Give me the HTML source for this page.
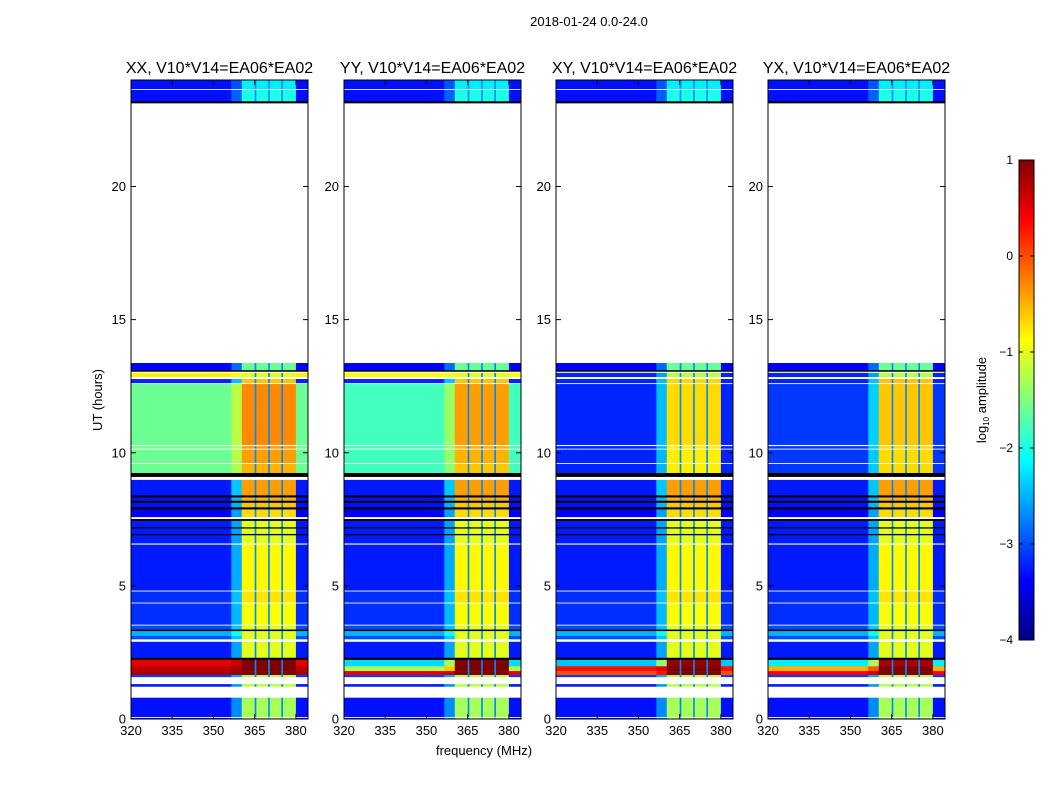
<!DOCTYPE html>
<html><head><meta charset="utf-8"><style>
body{margin:0;background:#fff;}
svg{display:block;font-family:"Liberation Sans",sans-serif;}
</style></head><body>
<svg id="fig" width="1050" height="800" viewBox="0 0 1050 800" xmlns="http://www.w3.org/2000/svg">
<rect width="1050" height="800" fill="#fff"/>
<text x="589" y="26" font-size="13" text-anchor="middle">2018-01-24 0.0-24.0</text>
<text transform="translate(102,400) rotate(-90)" font-size="13" text-anchor="middle">UT (hours)</text>
<text x="484" y="755" font-size="13" text-anchor="middle">frequency (MHz)</text>
<text transform="translate(986,400) rotate(-90)" font-size="13" text-anchor="middle">log<tspan font-size="8" dy="3">10</tspan><tspan dy="-3"> amplitude</tspan></text>
<g id="panels"></g>
<g id="cbar"></g>
</svg>
<script>
// ---- data ----
const panelTitles = ["XX, V10*V14=EA06*EA02","YY, V10*V14=EA06*EA02","XY, V10*V14=EA06*EA02","YX, V10*V14=EA06*EA02"];
const yTicks = [0,5,10,15,20];
const xTicks = [320,335,350,365,380];
const freqEdges = [320,356.5,360.3,365,365.6,369.9,370.5,374.7,375.3,380,384.4];
const colKinds  = ['bg','ramp','band','gap','band','gap','band','gap','band','bg'];
const gapValue = -2.7;
// time rows [start hour, end hour]; null = flagged (white), -9 = black separator
const rowStart = [23.67,23.63,23.2,23.13,13.37,13.1,13.05,13.0,12.85,12.77,12.62,12.58,10.3,10.25,10.16,10.12,9.62,9.58,9.24,9.1,8.98,8.4,8.32,8.2,8.12,7.95,7.87,7.59,7.51,7.44,7.2,7.15,6.95,6.9,6.6,6.55,4.83,4.79,4.38,4.34,3.55,3.51,3.36,3.3,3.12,3.0,2.9,2.3,2.22,1.98,1.8,1.65,1.58,1.31,1.22,0.8,0.08,0.04,0];
const rowEnd   = [24,23.67,23.63,23.2,23.13,13.37,13.1,13.05,13.0,12.85,12.77,12.62,12.58,10.3,10.25,10.16,10.12,9.62,9.58,9.24,9.1,8.98,8.4,8.32,8.2,8.12,7.95,7.87,7.59,7.51,7.44,7.2,7.15,6.95,6.9,6.6,6.55,4.83,4.79,4.38,4.34,3.55,3.51,3.36,3.3,3.12,3.0,2.9,2.3,2.22,1.98,1.8,1.65,1.58,1.31,1.22,0.8,0.08,0.04];
const bgXX = [-3.3,null,-3.3,-9,null,-3.4,-9,null,-0.8,null,-3.2,null,-1.6,null,-1.6,null,-1.6,null,-1.6,-9,null,-3.25,-9,-3.3,-9,-3.3,-9,-3.4,null,-9,-3.25,-9,-3.25,-9,-3.25,null,-3.25,null,-3.15,null,-3.15,null,-3.0,-9,-2.5,-3.0,null,-3.25,-9,0.5,0.7,0.8,-3.1,null,-3.25,null,-3.3,null,-3.3];
const bgYY = [-3.3,null,-3.3,-9,null,-3.4,-9,null,-0.9,null,-3.2,null,-1.8,null,-1.8,null,-1.8,null,-1.8,-9,null,-3.25,-9,-3.3,-9,-3.3,-9,-3.4,null,-9,-3.25,-9,-3.25,-9,-3.25,null,-3.25,null,-3.15,null,-3.15,null,-3.0,-9,-2.5,-3.0,null,-3.25,-9,-2.3,-1.3,0.5,-3.1,null,-3.25,null,-3.3,null,-3.3];
const bgXY = [-3.3,null,-3.3,-9,null,-3.4,-9,null,-3.2,null,-3.2,null,-3.2,null,-3.2,null,-3.2,null,-3.2,-9,null,-3.25,-9,-3.3,-9,-3.3,-9,-3.4,null,-9,-3.25,-9,-3.25,-9,-3.25,null,-3.25,null,-3.15,null,-3.15,null,-3.0,-9,-2.5,-3.0,null,-3.25,-9,-2.4,0.3,0.0,-3.1,null,-3.25,null,-3.3,null,-3.3];
const bgYX = [-3.3,null,-3.3,-9,null,-3.4,-9,null,-3.2,null,-3.2,null,-3.1,null,-3.1,null,-3.1,null,-3.1,-9,null,-3.25,-9,-3.3,-9,-3.3,-9,-3.4,null,-9,-3.25,-9,-3.25,-9,-3.25,null,-3.25,null,-3.15,null,-3.15,null,-3.0,-9,-2.5,-3.0,null,-3.25,-9,-2.2,-0.5,0.4,-3.1,null,-3.25,null,-3.3,null,-3.3];
const bandXX = [-2.2,null,-2.0,-9,null,-1.6,-9,null,-1.0,null,-0.6,null,-0.3,null,-0.4,null,-0.4,null,-0.5,-9,null,-0.4,-9,-0.5,-9,-0.6,-9,-0.7,null,-9,-1.0,-9,-1.0,-9,-1.0,null,-0.85,null,-0.75,null,-0.9,null,-1.0,-9,-1.0,-1.0,null,-1.0,-9,1.0,1.0,1.0,-1.2,null,-1.2,null,-1.3,null,-1.3];
const bandYY = [-2.2,null,-2.0,-9,null,-1.6,-9,null,-1.0,null,-0.6,null,-0.4,null,-0.5,null,-0.5,null,-0.6,-9,null,-0.4,-9,-0.5,-9,-0.6,-9,-0.7,null,-9,-1.0,-9,-1.0,-9,-1.0,null,-0.85,null,-0.75,null,-0.9,null,-1.0,-9,-1.0,-1.0,null,-1.0,-9,1.0,1.0,1.0,-1.2,null,-1.2,null,-1.3,null,-1.3];
const bandXY = [-2.2,null,-2.0,-9,null,-1.6,-9,null,-1.2,null,-0.7,null,-0.7,null,-0.8,null,-0.8,null,-0.8,-9,null,-0.4,-9,-0.5,-9,-0.6,-9,-0.7,null,-9,-1.0,-9,-1.0,-9,-1.0,null,-0.85,null,-0.75,null,-0.9,null,-1.0,-9,-1.0,-1.0,null,-1.0,-9,0.9,1.0,1.0,-1.2,null,-1.2,null,-1.3,null,-1.3];
const bandYX = [-2.2,null,-2.0,-9,null,-1.6,-9,null,-1.2,null,-0.6,null,-0.6,null,-0.7,null,-0.7,null,-0.7,-9,null,-0.4,-9,-0.5,-9,-0.6,-9,-0.7,null,-9,-1.0,-9,-1.0,-9,-1.0,null,-0.85,null,-0.75,null,-0.9,null,-1.0,-9,-1.0,-1.0,null,-1.0,-9,0.8,1.0,1.0,-1.2,null,-1.2,null,-1.3,null,-1.3];
const rampWeight = 0.3; // share of band level in transition column
const cbarTicks = [-4,-3,-2,-1,0,1];

// ---- layout ----
const NS="http://www.w3.org/2000/svg";
const panelLefts=[131,344,556,768], PW=177, TOP=80, BOT=719;
const fMin=320, fMax=384.4, hMin=0, hMax=24, vMin=-4, vMax=1;
const bgSets=[bgXX,bgYY,bgXY,bgYX], bandSets=[bandXX,bandYY,bandXY,bandYX];
const panelNames=['xx','yy','xy','yx'];
function mk(tag,attrs,parent){const e=document.createElementNS(NS,tag);for(const k in attrs)e.setAttribute(k,attrs[k]);parent.appendChild(e);return e;}
function jet(v){
  let t=(v-vMin)/(vMax-vMin); t=Math.max(0,Math.min(1,t));
  const cl=x=>Math.max(0,Math.min(1,x));
  const r=cl(1.5-Math.abs(4*t-3)), g=cl(1.5-Math.abs(4*t-2)), b=cl(1.5-Math.abs(4*t-1));
  return `rgb(${Math.round(r*255)},${Math.round(g*255)},${Math.round(b*255)})`;
}
function colorOf(v){ if(v===null) return null; if(v<=-9) return '#000'; return jet(v); }

const panelsG=document.getElementById('panels');
panelLefts.forEach((L,p)=>{
  const xs=f=>L+(f-fMin)/(fMax-fMin)*PW;
  const ys=h=>BOT-(h-hMin)/(hMax-hMin)*(BOT-TOP);
  const g=mk('g',{},panelsG);
  
  
  const hm=mk('g',{},g);
  
  
  const bg=bgSets[p], band=bandSets[p];
  for(let r=0;r<rowStart.length;r++){
    const y0=ys(rowEnd[r]), y1=ys(rowStart[r]);
    for(let c=0;c<colKinds.length;c++){
      const k=colKinds[c];
      let v;
      if(bg[r]===null) v=null;
      else if(bg[r]<=-9) v=-9;
      else if(k==='bg') v=bg[r];
      else if(k==='band') v=band[r];
      else if(k==='gap') v=Math.min(gapValue, band[r]);
      else v=bg[r]*(1-rampWeight)+band[r]*rampWeight;
      const col=colorOf(v); if(!col) continue;
      const x0=xs(freqEdges[c]), x1=xs(freqEdges[c+1]);
      const rc=mk('rect',{x:x0.toFixed(2),y:y0.toFixed(2),width:(x1-x0+0.3).toFixed(2),height:Math.max(0.8,y1-y0+0.2).toFixed(2),fill:col},hm);
      
      
    }
  }
  const fr=mk('rect',{x:L,y:TOP,width:PW,height:BOT-TOP,fill:'none',stroke:'#000','stroke-width':1},g);
  
  
  const tt=mk('text',{x:L+PW/2,y:73,'font-size':16,'text-anchor':'middle'},g);
  tt.textContent=panelTitles[p];
  
  
  yTicks.forEach(h=>{
    const y=ys(h);
    mk('line',{x1:L,x2:L+5,y1:y,y2:y,stroke:'#000'},g);
    mk('line',{x1:L+PW,x2:L+PW-5,y1:y,y2:y,stroke:'#000'},g);
    const t=mk('text',{x:L-5,y:y+4.5,'font-size':13,'text-anchor':'end'},g);
    t.textContent=h;
    
    
  });
  xTicks.forEach(f=>{
    const x=xs(f);
    mk('line',{x1:x,x2:x,y1:BOT,y2:BOT-5,stroke:'#000'},g);
    mk('line',{x1:x,x2:x,y1:TOP,y2:TOP+5,stroke:'#000'},g);
    const t=mk('text',{x:x,y:BOT+16,'font-size':13,'text-anchor':'middle'},g);
    t.textContent=f;
    
    
  });
});

// colorbar
const cb=document.getElementById('cbar');
const CBX=1019,CBW=15,CBT=160,CBB=640;
const cys=v=>CBB-(v-vMin)/(vMax-vMin)*(CBB-CBT);
const defs=mk('defs',{},cb);
const lg=mk('linearGradient',{id:'jetgrad',x1:0,y1:1,x2:0,y2:0},defs);
for(let i=0;i<=40;i++){const v=vMin+(vMax-vMin)*i/40;mk('stop',{offset:(i/40),'stop-color':jet(v)},lg);}
const cr=mk('rect',{x:CBX,y:CBT,width:CBW,height:CBB-CBT,fill:'url(#jetgrad)',stroke:'#000','stroke-width':1},cb);


cbarTicks.forEach(v=>{
  const y=cys(v);
  mk('line',{x1:CBX,x2:CBX+4,y1:y,y2:y,stroke:'#000'},cb);
  mk('line',{x1:CBX+CBW,x2:CBX+CBW-4,y1:y,y2:y,stroke:'#000'},cb);
  const t=mk('text',{x:1013,y:y+4,'font-size':12,'text-anchor':'end'},cb);
  t.textContent=(v<0?'\u2212'+(-v):String(v));
  
  
});
</script>
</body></html>
